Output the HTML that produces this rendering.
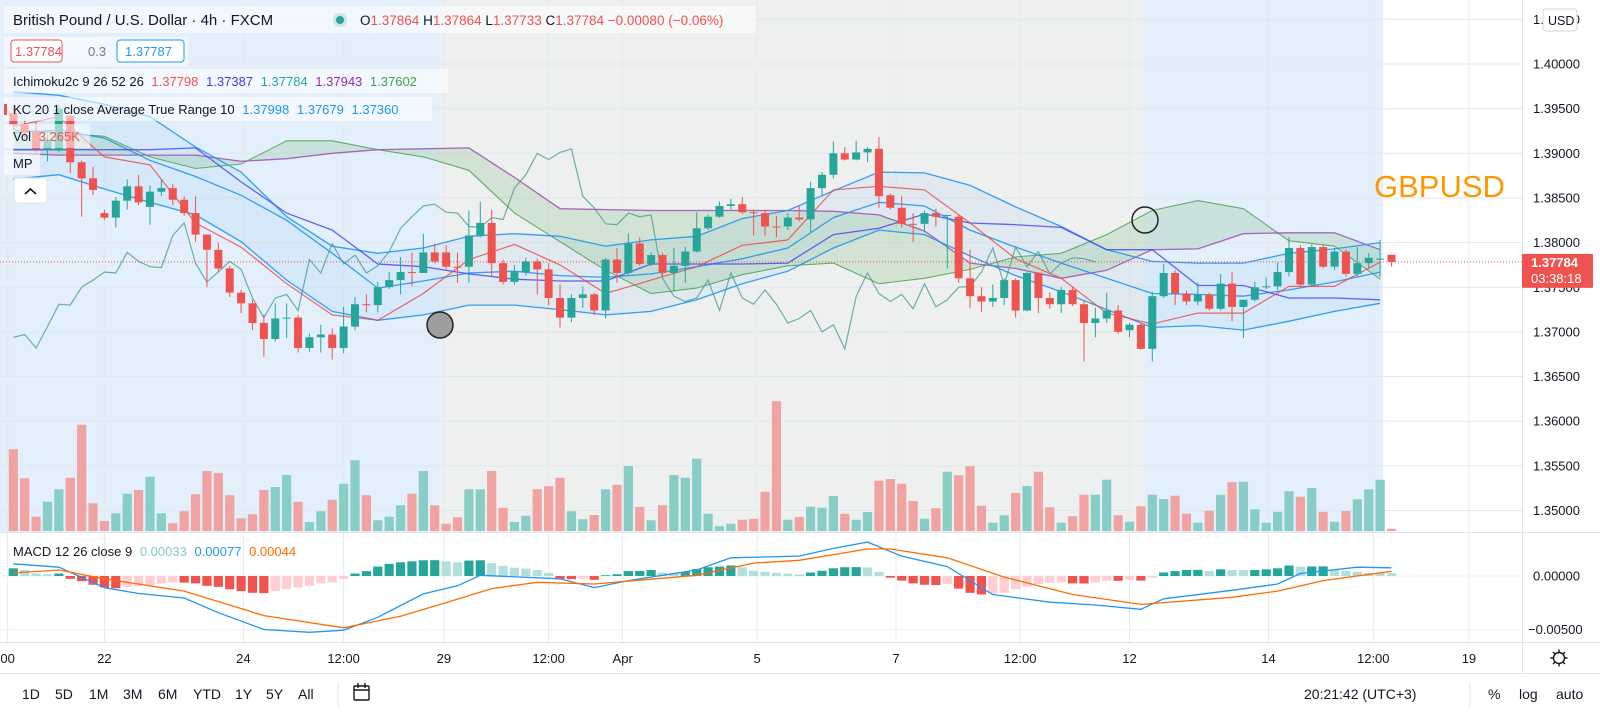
<!DOCTYPE html>
<html><head><meta charset="utf-8"><title>GBPUSD 4h</title>
<style>
html,body{margin:0;padding:0;background:#fff;}
body{width:1600px;height:718px;overflow:hidden;font-family:"Liberation Sans",sans-serif;}
svg text{font-family:"Liberation Sans",sans-serif;}
</style></head>
<body>
<svg id="chart" xmlns="http://www.w3.org/2000/svg" width="1600" height="718" viewBox="0 0 1600 718">
  <rect x="0" y="0" width="1600" height="718" fill="#ffffff"/>
  <rect x="0" y="0" width="439" height="532" fill="#e3effb"/>
  <rect x="439" y="0" width="706" height="532" fill="#eeefef"/>
  <rect x="1145" y="0" width="238" height="532" fill="#e3effb"/>
  <g id="grid"></g>
  <g id="ind-fills"></g>
  <g id="volume"></g>
  <g id="ind-lines"></g>
  <g id="candles"></g>
  <g id="macd"></g>
  <g id="overlay"></g>
  <g id="axes"></g>
</svg>
<script>
// ---------- DATA ----------
const candleOpen = [1.3945,1.3932,1.3924,1.3905,1.3903,1.3942,1.3890,1.3872,1.3833,1.3828,1.3847,1.3863,1.3840,1.3857,1.3861,1.3848,1.3833,1.3809,1.3792,1.3771,1.3744,1.3732,1.3710,1.3692,1.3715,1.3716,1.3682,1.3694,1.3697,1.3682,1.3706,1.3731,1.3730,1.3750,1.3758,1.3767,1.3766,1.3789,1.3789,1.3773,1.3773,1.3808,1.3822,1.3777,1.3756,1.3767,1.3779,1.3770,1.3738,1.3716,1.3738,1.3742,1.3724,1.3781,1.3766,1.3799,1.3776,1.3786,1.3766,1.3774,1.3790,1.3816,1.3829,1.3841,1.3843,1.3834,1.3833,1.3818,1.3818,1.3828,1.3826,1.3861,1.3876,1.3900,1.3893,1.3901,1.3905,1.3853,1.3839,1.3821,1.3821,1.3833,1.3830,1.3829,1.3760,1.3740,1.3734,1.3738,1.3758,1.3724,1.3766,1.3738,1.3731,1.3747,1.3731,1.3710,1.3715,1.3724,1.3702,1.3708,1.3681,1.3740,1.3766,1.3743,1.3734,1.3742,1.3726,1.3754,1.3728,1.3736,1.3750,1.3751,1.3767,1.3794,1.3753,1.3795,1.3773,1.3790,1.3765,1.3777,1.3781,1.37864];
const candleClose = [1.3932,1.3923,1.3905,1.3915,1.3950,1.3890,1.3872,1.3859,1.3828,1.3847,1.3863,1.3845,1.3857,1.3861,1.3848,1.3833,1.3809,1.3792,1.3771,1.3744,1.3732,1.3710,1.3692,1.3715,1.3716,1.3682,1.3694,1.3697,1.3682,1.3706,1.3731,1.3730,1.3750,1.3758,1.3767,1.3766,1.3789,1.3779,1.3773,1.3772,1.3808,1.3822,1.3777,1.3756,1.3767,1.3779,1.3770,1.3738,1.3716,1.3738,1.3742,1.3724,1.3781,1.3766,1.3799,1.3776,1.3786,1.3766,1.3774,1.3790,1.3816,1.3829,1.3841,1.3843,1.3834,1.3833,1.3818,1.3817,1.3828,1.3826,1.3861,1.3876,1.3900,1.3893,1.3901,1.3905,1.3852,1.3839,1.3821,1.3820,1.3833,1.3829,1.3831,1.3760,1.3740,1.3734,1.3738,1.3758,1.3724,1.3766,1.3738,1.3731,1.3747,1.3731,1.3710,1.3715,1.3724,1.3700,1.3708,1.3681,1.3740,1.3766,1.3743,1.3734,1.3742,1.3726,1.3754,1.3728,1.3736,1.3750,1.3751,1.3767,1.3794,1.3753,1.3795,1.3773,1.3790,1.3765,1.3777,1.3783,1.3782,1.37784];
const candleHigh = [1.3954,1.3937,1.3935,1.3921,1.3954,1.3948,1.3892,1.3885,1.3837,1.3851,1.3871,1.3876,1.3864,1.3871,1.3866,1.3852,1.3852,1.3809,1.3800,1.3774,1.3747,1.3736,1.3719,1.3732,1.3732,1.3719,1.3698,1.3708,1.3704,1.3728,1.3739,1.3742,1.3756,1.3767,1.3784,1.3789,1.3810,1.3799,1.3797,1.3789,1.3836,1.3846,1.3837,1.3781,1.3775,1.3783,1.3782,1.3777,1.3753,1.3742,1.3751,1.3744,1.3783,1.3794,1.3810,1.3806,1.3789,1.3789,1.3794,1.3795,1.3834,1.3831,1.3846,1.3849,1.3851,1.3837,1.3837,1.3830,1.3833,1.3842,1.3868,1.3879,1.3913,1.3907,1.3914,1.3907,1.3918,1.3855,1.3852,1.3833,1.3836,1.3838,1.3831,1.3831,1.3792,1.3750,1.3753,1.3760,1.3760,1.3767,1.3767,1.3744,1.3750,1.3750,1.3734,1.3727,1.3744,1.3730,1.3710,1.3710,1.3745,1.3776,1.3769,1.3746,1.3755,1.3744,1.3765,1.3767,1.3736,1.3756,1.3761,1.3778,1.3806,1.3797,1.3798,1.3798,1.3794,1.3792,1.3795,1.3788,1.3803,1.37864];
const candleLow = [1.3926,1.3915,1.3898,1.3891,1.3901,1.3878,1.3829,1.3853,1.3825,1.3817,1.3837,1.3842,1.3820,1.3852,1.3842,1.3830,1.3801,1.3750,1.3767,1.3739,1.3721,1.3702,1.3672,1.3689,1.3693,1.3677,1.3678,1.3677,1.3669,1.3676,1.3702,1.3722,1.3722,1.3748,1.3742,1.3751,1.3766,1.3777,1.3770,1.3755,1.3755,1.3806,1.3762,1.3753,1.3753,1.3763,1.3742,1.3730,1.3705,1.3711,1.3727,1.3719,1.3715,1.3755,1.3763,1.3774,1.3774,1.3763,1.3745,1.3755,1.3789,1.3814,1.3828,1.3837,1.3832,1.3808,1.3808,1.3806,1.3814,1.3824,1.3812,1.3852,1.3872,1.3892,1.3892,1.3890,1.3839,1.3837,1.3817,1.3801,1.3812,1.3818,1.3771,1.3755,1.3727,1.3722,1.3728,1.3730,1.3716,1.3723,1.3721,1.3726,1.3721,1.3729,1.3667,1.3694,1.3710,1.3698,1.3694,1.3680,1.3667,1.3738,1.3730,1.3730,1.3730,1.3724,1.3724,1.3712,1.3693,1.3734,1.3748,1.3747,1.3762,1.3751,1.3751,1.3771,1.3769,1.3762,1.3762,1.3772,1.3762,1.37733];
const volumes = [3.27,2.11,0.57,1.17,1.67,2.13,4.25,1.11,0.40,0.71,1.49,1.64,2.17,0.71,0.31,0.79,1.47,2.40,2.32,1.43,0.51,0.67,1.64,1.76,2.24,1.17,0.36,0.79,1.25,1.89,2.83,1.43,0.43,0.57,1.03,1.49,2.40,1.03,0.29,0.55,1.67,1.67,2.40,0.93,0.36,0.61,1.67,1.79,2.13,0.79,0.47,0.64,1.67,1.85,2.60,0.96,0.43,1.03,2.24,2.13,2.89,0.69,0.19,0.29,0.45,0.49,1.57,5.19,0.45,0.56,0.97,0.93,1.40,0.69,0.45,0.76,2.01,2.08,1.89,1.20,0.49,0.91,2.37,2.23,2.59,1.01,0.33,0.63,1.52,1.80,2.37,0.95,0.33,0.59,1.45,1.45,2.05,0.63,0.37,0.99,1.45,1.28,1.41,0.69,0.33,0.81,1.45,1.95,1.97,0.87,0.33,0.77,1.59,1.37,1.72,0.77,0.37,0.80,1.27,1.67,2.05,0.09];
const histVals = [0.72,0.56,0.23,0.16,0.23,-0.26,-0.49,-0.82,-1.08,-1.14,-1.01,-0.92,-0.85,-0.69,-0.59,-0.62,-0.69,-0.92,-1.01,-1.24,-1.41,-1.57,-1.60,-1.41,-1.24,-1.08,-0.92,-0.69,-0.59,-0.26,0.23,0.46,0.88,1.14,1.28,1.37,1.47,1.48,1.37,1.28,1.44,1.47,1.21,0.95,0.78,0.69,0.56,0.29,-0.26,-0.30,-0.26,-0.36,0.07,0.16,0.46,0.47,0.56,0.33,0.30,0.39,0.65,0.82,0.88,0.98,0.82,0.49,0.39,0.29,0.23,0.16,0.33,0.49,0.72,0.82,0.83,0.80,0.39,-0.16,-0.43,-0.69,-0.82,-0.84,-0.75,-1.18,-1.57,-1.73,-1.63,-1.57,-1.24,-1.01,-0.75,-0.65,-0.59,-0.69,-0.70,-0.59,-0.43,-0.45,-0.36,-0.43,-0.16,0.33,0.46,0.56,0.57,0.46,0.62,0.56,0.55,0.56,0.62,0.72,0.98,0.88,0.89,0.90,0.56,0.49,0.39,0.29,0.28,0.27];
const macdIdx = [0,4,8,11,15,18,22,26,29,32,36,39,41,48,51,54,59,60,63,69,72,75,78,82,86,91,95,99,101,107,111,113,118,121];
const macdVals = [1.14,0.82,-1.08,-1.64,-2.06,-3.43,-5.0,-5.26,-5.07,-3.86,-1.67,-0.92,0.07,-0.26,-1.08,-0.43,0.39,0.56,1.70,1.86,2.58,3.17,1.86,0.88,-1.73,-2.45,-2.71,-3.11,-2.13,-1.34,-0.75,0.23,0.82,0.77];
const signalIdx = [0,4,8,15,22,29,34,38,42,46,51,60,65,69,75,77,82,87,93,99,107,111,115,121];
const signalVals = [0.29,0.56,-0.26,-1.41,-3.70,-4.84,-3.76,-2.49,-1.18,-0.59,-0.75,0.07,1.21,1.47,2.52,2.52,1.70,-0.10,-1.73,-2.65,-1.99,-1.41,-0.43,0.44];
const lineIdx = [0,4,8,12,16,20,24,28,32,36,40,44,48,52,56,60,64,68,72,76,80,84,88,92,96,100,104,108,112,116,120];
const kcUpper = [1.3969,1.3965,1.3955,1.3941,1.3907,1.3879,1.3829,1.3796,1.3788,1.3794,1.3807,1.3810,1.3807,1.3796,1.3803,1.3807,1.3827,1.3836,1.3858,1.3879,1.3878,1.3864,1.3840,1.3818,1.3792,1.3779,1.3777,1.3777,1.3788,1.3793,1.3800];
const kcMid = [1.3923,1.3926,1.3917,1.3892,1.3874,1.3853,1.3825,1.3788,1.3749,1.3757,1.3766,1.3768,1.3763,1.3761,1.3765,1.3773,1.3782,1.3794,1.3828,1.3845,1.3841,1.3814,1.3795,1.3777,1.3760,1.3743,1.3742,1.3740,1.3747,1.3756,1.3767];
const kcLower = [1.3871,1.3876,1.3860,1.3845,1.3831,1.3801,1.3758,1.3723,1.3713,1.3719,1.3730,1.3730,1.3725,1.3719,1.3723,1.3736,1.3754,1.3768,1.3794,1.3814,1.3809,1.3785,1.3763,1.3745,1.3725,1.3705,1.3707,1.3702,1.3712,1.3723,1.3732];
const tenkan = [1.3930,1.3941,1.3896,1.3887,1.3822,1.3795,1.3754,1.3719,1.3713,1.3743,1.3781,1.3798,1.3775,1.3743,1.3758,1.3773,1.3797,1.3803,1.3859,1.3863,1.3859,1.3822,1.3782,1.3760,1.3721,1.3709,1.3721,1.3721,1.3751,1.3751,1.3778];
const kijun = [1.3904,1.3904,1.3904,1.3904,1.3906,1.3868,1.3833,1.3814,1.3776,1.3773,1.3765,1.3759,1.3757,1.3757,1.3776,1.3776,1.3776,1.3777,1.3809,1.3816,1.3832,1.3822,1.3820,1.3817,1.3792,1.3792,1.3752,1.3752,1.3738,1.3738,1.3736];
const spanA = [1.3926,1.3923,1.3919,1.3896,1.3883,1.3888,1.3914,1.3914,1.3904,1.3896,1.3881,1.3833,1.3801,1.3769,1.3743,1.3749,1.3764,1.3774,1.3777,1.3754,1.3760,1.3770,1.3784,1.3788,1.3809,1.3836,1.3847,1.3838,1.3802,1.3796,1.3759];
const spanB = [1.3900,1.3898,1.3898,1.3898,1.3898,1.3891,1.3894,1.3900,1.3904,1.3905,1.3906,1.3873,1.3838,1.3837,1.3836,1.3836,1.3836,1.3836,1.3835,1.3831,1.3813,1.3777,1.3771,1.3760,1.3769,1.3792,1.3793,1.3810,1.3811,1.3811,1.3792];
const priceTicks = [1.350,1.355,1.360,1.365,1.370,1.375,1.380,1.385,1.390,1.395,1.400,1.405];
const macdTicks = [0,-5];
const timeLabels = ["00","22","24","12:00","29","12:00","Apr","5","7","12:00","12","14","12:00","19"];
const timeIdx = [-0.5,8,20.2,29,37.8,47,53.5,65.3,77.5,88.4,98,110.2,119.4,127.8];
const lastPrice = 1.37784;
const chikouShift = 26;

// ---------- SCALES ----------
const NS = "http://www.w3.org/2000/svg";
const X0 = 13.3, DX = 11.39, PLOT_R = 1522;
function xi(i){ return X0 + i*DX; }
function py(p){ return 64 + (1.4 - p)*8930; }
function vy(v){ return 531 - v*25; }
function my(m){ return 576 - m*10.7; }
function el(tag, attrs, parent){
  const e = document.createElementNS(NS, tag);
  for (const k in attrs) e.setAttribute(k, attrs[k]);
  parent.appendChild(e);
  return e;
}
const UP = "#26a69a", DN = "#ef5350";

// ---------- GRID ----------
const grid = document.getElementById("grid");
priceTicks.forEach(function(t){
  const y = py(t);
  if (y < 0 || y > 532) return;
  const g = el("line", {x1:0, x2:PLOT_R, y1:y, y2:y, stroke:"#e2e6ee", "stroke-width":1}, grid);
  
  
});
timeIdx.forEach(function(t){
  const x = xi(t);
  const g = el("line", {x1:x, x2:x, y1:0, y2:642, stroke:"#e6e9ef", "stroke-width":1}, grid);
  
  
});
macdTicks.forEach(function(t){
  const y = my(t);
  const g = el("line", {x1:0, x2:PLOT_R, y1:y, y2:y, stroke:"#eef0f4", "stroke-width":1}, grid);
  
  
});

// ---------- INDICATOR FILLS ----------
const fills = document.getElementById("ind-fills");
function pts(arr){ return arr.map(function(v,k){ return xi(lineIdx[k]).toFixed(1)+","+py(v).toFixed(1); }); }
const kcPoly = pts(kcUpper).concat(pts(kcLower).reverse()).join(" ");
const kcFill = el("polygon", {points:kcPoly, fill:"rgba(33,150,243,0.07)"}, fills);


const cloudPoly = pts(spanA).concat(pts(spanB).reverse()).join(" ");
const cloud = el("polygon", {points:cloudPoly, fill:"rgba(67,160,71,0.16)"}, fills);



// ---------- VOLUME ----------
const volG = document.getElementById("volume");
volumes.forEach(function(v,i){
  const up = candleClose[i] >= candleOpen[i];
  const x = xi(i);
  const r = el("rect", {x:x-4.6, y:vy(v), width:9.2, height:531-vy(v), fill: up ? "#88cdc6" : "#f0a3a1"}, volG);
  
  
});

// ---------- INDICATOR LINES ----------
const linesG = document.getElementById("ind-lines");
function drawLine(arr, color, w, name, op){
  const p = el("polyline", {points:pts(arr).join(" "), fill:"none", stroke:color, "stroke-width":w, opacity:op}, linesG);
  
  
}
drawLine(spanA, "#43a047", 1.1, "ichimoku-span-a", 0.8);
drawLine(spanB, "#9c4fb5", 1.3, "ichimoku-span-b", 0.85);
drawLine(kcUpper, "#2196f3", 1.3, "keltner-upper", 0.9);
drawLine(kcMid, "#2196f3", 1.3, "keltner-basis", 0.9);
drawLine(kcLower, "#2196f3", 1.3, "keltner-lower", 0.9);
drawLine(kijun, "#4a4af0", 1.3, "ichimoku-kijun", 0.85);
drawLine(tenkan, "#ef4444", 1.2, "ichimoku-tenkan", 0.8);
const chPts = [];
for (let i = 0; i + chikouShift < candleClose.length; i++){
  chPts.push(xi(i).toFixed(1) + "," + py(candleClose[i + chikouShift]).toFixed(1));
}
const ch = el("polyline", {points:chPts.join(" "), fill:"none", stroke:"#3d9a92", "stroke-width":1.2, opacity:0.75}, linesG);



// ---------- CANDLES ----------
const cg = document.getElementById("candles");
candleOpen.forEach(function(o,i){
  const c = candleClose[i], h = candleHigh[i], l = candleLow[i];
  const up = c >= o, col = up ? UP : DN, x = xi(i);
  const w = el("line", {x1:x, x2:x, y1:py(h), y2:py(l), stroke:col, "stroke-width":1}, cg);
  
  
  const top = py(Math.max(o,c)), bot = py(Math.min(o,c));
  const b = el("rect", {x:x-4, y:top, width:8, height:Math.max(1, bot-top), fill:col}, cg);
  
  
});

// ---------- MACD ----------
const mg = document.getElementById("macd");
histVals.forEach(function(v,i){
  const prev = i > 0 ? histVals[i-1] : v;
  let col;
  if (v >= 0) col = v >= prev ? "#26a69a" : "#b2dfdb";
  else col = v < prev ? "#ef5350" : "#ffcdd2";
  const y0 = my(0), y1 = my(v);
  const r = el("rect", {x:xi(i)-4.6, y:Math.min(y0,y1), width:9.2, height:Math.max(0.8, Math.abs(y1-y0)), fill:col}, mg);
  
  
});
const macdLine = el("polyline", {points:macdVals.map(function(v,k){return xi(macdIdx[k]).toFixed(1)+","+my(v).toFixed(1);}).join(" "), fill:"none", stroke:"#2196f3", "stroke-width":1.3}, mg);


const sigLine = el("polyline", {points:signalVals.map(function(v,k){return xi(signalIdx[k]).toFixed(1)+","+my(v).toFixed(1);}).join(" "), fill:"none", stroke:"#ff6d00", "stroke-width":1.3}, mg);



// ---------- OVERLAY ----------
const ov = document.getElementById("overlay");
const cpl = el("line", {x1:0, x2:PLOT_R, y1:py(lastPrice), y2:py(lastPrice), stroke:"#ef5350", "stroke-width":1, "stroke-dasharray":"1,2"}, ov);


const c1 = el("circle", {cx:440, cy:325, r:13, fill:"#9e9e9e", stroke:"#222", "stroke-width":1.5}, ov);


const c2 = el("circle", {cx:1145, cy:220, r:13, fill:"none", stroke:"#222", "stroke-width":1.5}, ov);



// ---------- AXES ----------
const ax = document.getElementById("axes");
const axBg = el("rect", {x:PLOT_R, y:0, width:78, height:673, fill:"#ffffff"}, ax);


const axLine = el("line", {x1:PLOT_R+0.5, x2:PLOT_R+0.5, y1:0, y2:673, stroke:"#e0e3eb"}, ax);


priceTicks.forEach(function(t){
  const tx = el("text", {x:1533, y:py(t)+4.5, "font-size":13, fill:"#131722"}, ax);
  tx.textContent = t.toFixed(5);
  
  
});
macdTicks.forEach(function(t){
  const tx = el("text", {x:t < 0 ? 1528 : 1533, y:my(t)+4.5, "font-size":13, fill:"#131722"}, ax);
  tx.textContent = (t/1000).toFixed(5).replace("-", "\u2212");
  
  
});
timeLabels.forEach(function(s,k){
  const tx = el("text", {x:xi(timeIdx[k]), y:663, "font-size":13, fill:"#131722", "text-anchor":"middle"}, ax);
  tx.textContent = s;
  
  
});
const plY = py(lastPrice);
const plBox = el("rect", {x:PLOT_R, y:plY-8, width:71, height:34, fill:"#ef5350", rx:1}, ax);


const plT = el("text", {x:1531, y:plY+5, "font-size":13, fill:"#fff", "font-weight":"bold"}, ax);
plT.textContent = lastPrice.toFixed(5);


const plC = el("text", {x:1531, y:plY+21, "font-size":13, fill:"#fff"}, ax);
plC.textContent = "03:38:18";


</script>
<svg style="position:absolute;left:0;top:0" width="1600" height="718" xmlns="http://www.w3.org/2000/svg">
  <!-- legend -->
  <rect x="4" y="6" width="752" height="27" fill="rgba(255,255,255,0.55)"/>
  <text x="13" y="25" font-size="15" fill="#131722">British Pound / U.S. Dollar · 4h · FXCM</text>
  <circle cx="340" cy="20" r="4" fill="#26a69a"/>
  <circle cx="340" cy="20" r="7" fill="rgba(38,166,154,0.2)"/>
  <text x="360" y="25" font-size="13.5" fill="#ef5350"><tspan fill="#131722">O</tspan>1.37864 <tspan fill="#131722">H</tspan>1.37864 <tspan fill="#131722">L</tspan>1.37733 <tspan fill="#131722">C</tspan>1.37784 −0.00080 (−0.06%)</text>
  <rect x="4" y="37" width="184" height="29" fill="rgba(255,255,255,0.55)"/>
  <rect x="11" y="40" width="51" height="22" rx="3" fill="#fff" stroke="#ef5350"/>
  <text x="15" y="56" font-size="13" fill="#ef5350">1.37784</text>
  <text x="88" y="56" font-size="13" fill="#787b86">0.3</text>
  <rect x="117" y="40" width="67" height="22" rx="3" fill="#fff" stroke="#2196f3"/>
  <text x="125" y="56" font-size="13" fill="#2196f3">1.37787</text>
  <rect x="4" y="69" width="444" height="24" fill="rgba(255,255,255,0.55)"/>
  <text x="13" y="86" font-size="13" fill="#131722">Ichimoku2c 9 26 52 26 <tspan fill="#ef5350" dx="4">1.37798</tspan> <tspan fill="#3f3fe0" dx="4">1.37387</tspan> <tspan fill="#26a69a" dx="4">1.37784</tspan> <tspan fill="#9c27b0" dx="4">1.37943</tspan> <tspan fill="#43a047" dx="4">1.37602</tspan></text>
  <rect x="4" y="97" width="428" height="24" fill="rgba(255,255,255,0.55)"/>
  <rect x="4" y="104" width="3" height="11" fill="#ef5350"/>
  <text x="13" y="114" font-size="13" fill="#131722">KC 20 1 close Average True Range 10 <tspan fill="#2196f3" dx="4">1.37998</tspan> <tspan fill="#2196f3" dx="4">1.37679</tspan> <tspan fill="#2196f3" dx="4">1.37360</tspan></text>
  <rect x="4" y="124" width="86" height="24" fill="rgba(255,255,255,0.55)"/>
  <text x="13" y="141" font-size="13" fill="#131722">Vol <tspan fill="#ef5350" dx="4">3.265K</tspan></text>
  <rect x="4" y="151" width="36" height="24" fill="rgba(255,255,255,0.55)"/>
  <text x="13" y="168" font-size="13" fill="#131722">MP</text>
  <rect x="14" y="178" width="33" height="25" rx="3" fill="#fff" stroke="#e0e3eb"/>
  <path d="M25 194 L30.5 189 L36 194" fill="none" stroke="#131722" stroke-width="1.6"/>
  <text x="1374" y="197" font-size="31" fill="#ff9800">GBPUSD</text>
  <rect x="1543" y="9" width="34" height="22" rx="3" fill="#fff" stroke="#d1d4dc"/>
  <text x="1548" y="25" font-size="12.5" fill="#131722">USD</text>
  <!-- pane separators -->
  <line x1="0" x2="1600" y1="532.5" y2="532.5" stroke="#e0e3eb"/>
  <line x1="0" x2="1600" y1="642.5" y2="642.5" stroke="#e0e3eb"/>
  <text x="13" y="556" font-size="13" fill="#131722">MACD 12 26 close 9 <tspan fill="#80cbc4" dx="4">0.00033</tspan> <tspan fill="#2196f3" dx="4">0.00077</tspan> <tspan fill="#ff6d00" dx="4">0.00044</tspan></text>
  <!-- settings gear -->
  <g>
    <circle cx="1559" cy="658" r="5.5" fill="none" stroke="#131722" stroke-width="1.4"/>
    <path d="M1559 649.5v3M1559 663.5v3M1550.5 658h3M1564.5 658h3M1553 652l2 2M1563 662l2 2M1553 664l2-2M1563 654l2-2" stroke="#131722" stroke-width="1.4"/>
  </g>
  <!-- bottom toolbar -->
  <rect x="0" y="673" width="1600" height="45" fill="#fff"/>
  <line x1="0" x2="1600" y1="673.5" y2="673.5" stroke="#e0e3eb"/>
  <g font-size="14" fill="#131722">
    <text x="22" y="699">1D</text>
    <text x="55" y="699">5D</text>
    <text x="89" y="699">1M</text>
    <text x="123" y="699">3M</text>
    <text x="158" y="699">6M</text>
    <text x="193" y="699">YTD</text>
    <text x="235" y="699">1Y</text>
    <text x="266" y="699">5Y</text>
    <text x="298" y="699">All</text>
    <text x="1304" y="699">20:21:42 (UTC+3)</text>
    <text x="1488" y="699">%</text>
    <text x="1519" y="699">log</text>
    <text x="1556" y="699">auto</text>
  </g>
  <line x1="338" x2="338" y1="683" y2="707" stroke="#e0e3eb"/>
  <line x1="1470" x2="1470" y1="683" y2="707" stroke="#e0e3eb"/>
  <g fill="none" stroke="#131722" stroke-width="1.4">
    <rect x="354" y="686" width="15" height="14" rx="1"/>
    <path d="M354 690h15M358 683v5M365 683v5"/>
  </g>
</svg>
</body></html>
